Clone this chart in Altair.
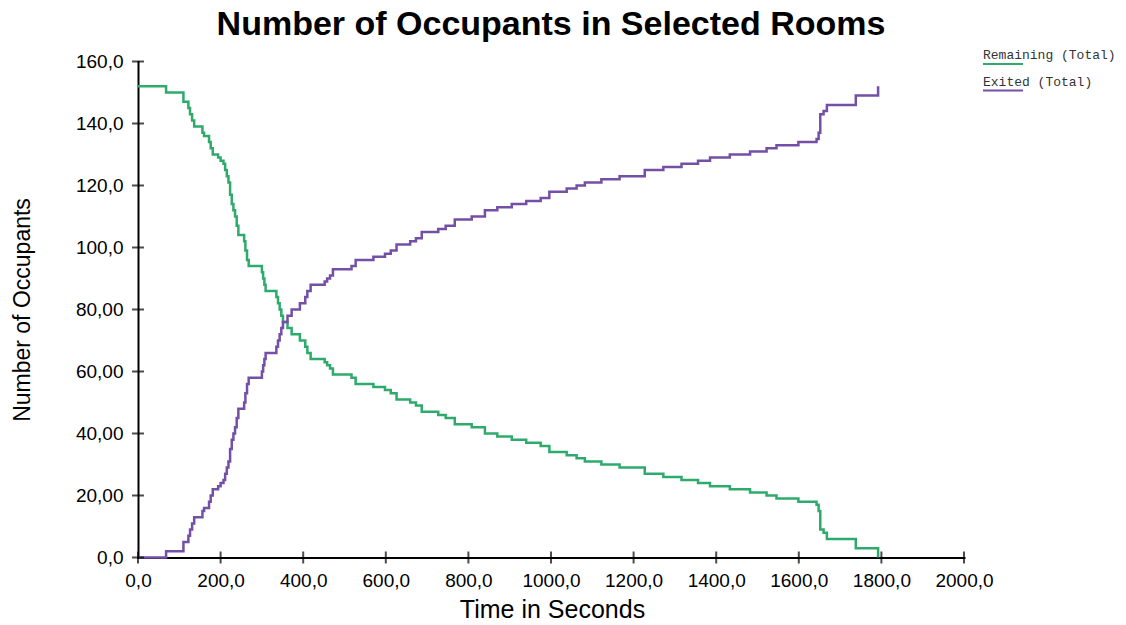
import altair as alt
import pandas as pd

# Step-series of occupants (time in seconds, head count after each change)
time_s = [0, 68, 110, 122, 126, 131, 136, 156, 160, 172, 176, 181, 194, 200, 207,
          211, 215, 219, 223, 227, 231, 235, 239, 243, 257, 260, 264, 268, 300, 303,
          306, 309, 335, 339, 343, 347, 351, 362, 372, 392, 405, 410, 418, 452, 458,
          465, 472, 517, 527, 570, 598, 612, 626, 659, 673, 687, 727, 745, 767, 808,
          840, 870, 905, 940, 975, 996, 1038, 1062, 1082, 1122, 1166, 1227, 1272, 1316, 1356,
          1385, 1433, 1482, 1522, 1546, 1599, 1643, 1648, 1652, 1660, 1668, 1738, 1792]

exited = [0, 2, 5, 7, 9, 11, 13, 15, 16, 18, 20, 22, 23, 24, 25,
          27, 29, 31, 35, 38, 40, 42, 45, 48, 50, 53, 56, 58, 60, 62,
          64, 66, 68, 70, 72, 74, 76, 78, 80, 82, 84, 86, 88, 89, 90,
          91, 93, 94, 96, 97, 98, 99, 101, 102, 103, 105, 106, 107, 109, 110,
          112, 113, 114, 115, 116, 118, 119, 120, 121, 122, 123, 125, 126, 127, 128,
          129, 130, 131, 132, 133, 134, 135, 137, 143, 144, 146, 149, 152]

remaining = [152, 150, 147, 145, 143, 141, 139, 137, 136, 134, 132, 130, 129, 128, 127,
             125, 123, 121, 117, 114, 112, 110, 107, 104, 102, 99, 96, 94, 92, 90,
             88, 86, 84, 82, 80, 78, 76, 74, 72, 70, 68, 66, 64, 63, 62,
             61, 59, 58, 56, 55, 54, 53, 51, 50, 49, 47, 46, 45, 43, 42,
             40, 39, 38, 37, 36, 34, 33, 32, 31, 30, 29, 27, 26, 25, 24,
             23, 22, 21, 20, 19, 18, 17, 15, 9, 8, 6, 3, 0]

series_names = ["Remaining (Total)", "Exited (Total)"]
series_colors = ["#2eaa6c", "#7350a6"]

x_tick_values = [0, 200, 400, 600, 800, 1000, 1200, 1400, 1600, 1800, 2000]
x_tick_labels = ["0,0", "200,0", "400,0", "600,0", "800,0", "1000,0", "1200,0",
                 "1400,0", "1600,0", "1800,0", "2000,0"]
y_tick_values = [0, 20, 40, 60, 80, 100, 120, 140, 160]
y_tick_labels = ["0,0", "20,00", "40,00", "60,00", "80,00", "100,0", "120,0",
                 "140,0", "160,0"]

W, H = 826, 496
SANS = "Liberation Sans"


def label_expr(values, labels):
    expr = "''"
    for v, lab in reversed(list(zip(values, labels))):
        expr = f"datum.value == {v} ? '{lab}' : ({expr})"
    return expr


df = pd.concat([
    pd.DataFrame({"time": time_s, "count": remaining, "series": series_names[0]}),
    pd.DataFrame({"time": time_s, "count": exited, "series": series_names[1]}),
])

xs = alt.Scale(domain=[0, 2000], nice=False, zero=False)
ys = alt.Scale(domain=[0, 160], nice=False)

x_axis = alt.Axis(
    values=x_tick_values, labelExpr=label_expr(x_tick_values, x_tick_labels),
    title="Time in Seconds", titleFont=SANS, titleFontSize=25, titleFontWeight="normal",
    titleColor="black", titleX=W / 2 + 1, titleY=52, titleBaseline="middle", titleAlign="center",
    labelFont=SANS, labelFontSize=19, labelColor="black", labelPadding=14,
    labelFlush=False, labelOverlap=False, ticks=False, tickSize=0, grid=False,
    domainColor="black", domainWidth=2, domainCap="square",
)
y_axis = alt.Axis(
    values=y_tick_values, labelExpr=label_expr(y_tick_values, y_tick_labels),
    title="Number of Occupants", titleFont=SANS, titleFontSize=23, titleFontWeight="normal",
    titleColor="black", titleX=-116, titleY=H / 2, titleAngle=270, titleBaseline="middle",
    titleAlign="center", labelFont=SANS, labelFontSize=19, labelColor="black",
    labelPadding=15, labelFlush=False, labelOverlap=False, ticks=False, tickSize=0,
    grid=False, domainColor="black", domainWidth=2, domainCap="square",
)

lines = alt.Chart(df).mark_line(interpolate="step-after", strokeWidth=2.5).encode(
    x=alt.X("time:Q", scale=xs, axis=x_axis),
    y=alt.Y("count:Q", scale=ys, axis=y_axis),
    color=alt.Color("series:N", scale=alt.Scale(domain=series_names, range=series_colors),
                    legend=None),
)

# Tick marks that cross the axis lines
y_ticks = alt.Chart(pd.DataFrame({"count": y_tick_values})).mark_tick(
    orient="horizontal", size=12, thickness=2, color="black"
).encode(y=alt.Y("count:Q", scale=ys, axis=y_axis), x=alt.value(0))

x_ticks = alt.Chart(pd.DataFrame({"time": x_tick_values})).mark_tick(
    orient="vertical", size=12, thickness=2, color="black"
).encode(x=alt.X("time:Q", scale=xs, axis=x_axis), y=alt.value(H))

# Legend: monospace label with a coloured underline
legend_layers = []
for i, (name, col) in enumerate(zip(series_names, series_colors)):
    base = i * 26.5
    legend_layers.append(
        alt.Chart(pd.DataFrame({"series": [name]})).mark_text(
            align="left", baseline="alphabetic", font="Liberation Mono", fontSize=13,
            color="#333333"
        ).encode(x=alt.value(845), y=alt.value(-2.5 + base), text="series:N")
    )
    legend_layers.append(
        alt.Chart(pd.DataFrame({"series": [name]})).mark_rule(
            color=col, strokeWidth=2
        ).encode(x=alt.value(845), x2=alt.value(885), y=alt.value(2.5 + base))
    )

chart = alt.layer(lines, y_ticks, x_ticks, *legend_layers).properties(
    width=W,
    height=H,
    background="white",
    padding={"left": 138, "top": 61.5, "right": 162, "bottom": 67.5},
    autosize=alt.AutoSizeParams(type="none"),
    title=alt.TitleParams(
        "Number of Occupants in Selected Rooms", font=SANS, fontSize=34,
        fontWeight="bold", color="black", anchor="middle", frame="group",
        baseline="alphabetic", offset=16, dy=36,
    ),
).configure_view(stroke=None)

chart.save("out.html", embed_options={"renderer": "svg", "actions": False})
